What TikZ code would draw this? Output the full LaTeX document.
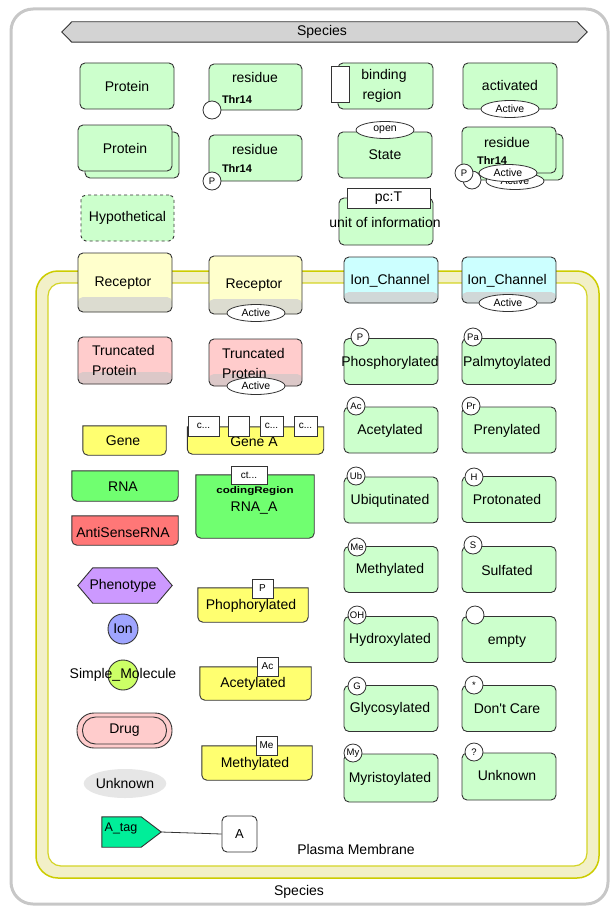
\documentclass[tikz,border=0pt]{standalone}
\usepackage{fontspec}
\usepackage{graphicx}
\setmainfont{Liberation Sans}
\usetikzlibrary{shapes.geometric}
\definecolor{protg}{HTML}{CCFFCC}
\definecolor{recy}{HTML}{FFFFCC}
\definecolor{recgray}{HTML}{DCDCD0}
\definecolor{ionc}{HTML}{CCFFFF}
\definecolor{iongray}{HTML}{D0D8D8}
\definecolor{truncp}{HTML}{FFCCCC}
\definecolor{truncgray}{HTML}{DCC8C8}
\definecolor{geney}{HTML}{FFFF70}
\definecolor{rnag}{HTML}{70FF70}
\definecolor{antir}{HTML}{FF7777}
\definecolor{phen}{HTML}{CC99FF}
\definecolor{ionb}{HTML}{9FA5FF}
\definecolor{smol}{HTML}{CCFF66}
\definecolor{drugp}{HTML}{FFCCCC}
\definecolor{unkg}{HTML}{E6E6E6}
\definecolor{tagg}{HTML}{00EE99}
\definecolor{bang}{HTML}{D3D3D3}
\definecolor{membf}{HTML}{F2F0C8}
\definecolor{membl}{HTML}{CCCC00}
\definecolor{edge}{HTML}{333333}
\newcommand\brnd[2]{\draw[line width=0.9pt, draw=edge, fill=#2] (#1.north west) -- (#1.north east) -- ([yshift=5pt]#1.south east) arc[start angle=0,end angle=-90,radius=5pt] -- ([xshift=5pt]#1.south west) arc[start angle=270,end angle=180,radius=5pt] -- cycle;}
\begin{document}
\begin{tikzpicture}[x=1pt,y=-1pt,
  every node/.style={inner sep=0pt, font=\fontsize{14}{16}\selectfont},
  lbl/.style={font=\fontsize{14}{16}\selectfont},
  bx/.style={draw=edge, line width=0.9pt, rounded corners=5pt},
  prot/.style={bx, fill=protg, minimum width=94pt, minimum height=46pt},
  modc/.style={circle, draw=edge, fill=white, line width=0.8pt, minimum size=18pt, font=\fontsize{9.5}{10}\selectfont},
  actv/.style={ellipse, draw=edge, fill=white, line width=0.8pt, minimum width=58pt, minimum height=17pt, font=\fontsize{10.5}{11}\selectfont},
  ubox/.style={draw=edge, fill=white, line width=0.8pt, font=\fontsize{10}{11}\selectfont},
  thr/.style={font=\fontsize{11}{12}\selectfont\bfseries},
  rec/.style={bx, fill=recy, minimum width=94pt, minimum height=59pt,
    path picture={\fill[recgray] (path picture bounding box.south west) rectangle ([yshift=15pt]path picture bounding box.south east);}},
  ionch/.style={bx, fill=ionc, minimum width=94pt, minimum height=46pt,
    path picture={\fill[iongray] (path picture bounding box.south west) rectangle ([yshift=11pt]path picture bounding box.south east);}},
  trunc/.style={bx, fill=truncp, minimum width=94pt, minimum height=47pt,
    path picture={\fill[truncgray] (path picture bounding box.south west) rectangle ([yshift=12pt]path picture bounding box.south east);}}
]
\useasboundingbox (0,0) rectangle (612,907);

% outer compartment
\node[draw=black!22, line width=3pt, rounded corners=22pt, minimum width=597pt, minimum height=895pt] (species) at (309.5,456.5) {};
\node[lbl] (speciesl) at (299,892) {Species};

% top banner
\node[minimum width=525pt, minimum height=20pt] (banner) at (324.5,32) {};
\draw[draw=edge, line width=0.9pt, fill=bang] (banner.west) -- ([xshift=10pt]banner.north west) -- ([xshift=-10pt]banner.north east) -- (banner.east) -- ([xshift=-10pt]banner.south east) -- ([xshift=10pt]banner.south west) -- cycle;
\node[lbl] (bannerl) at (322,32) {Species};

% row 1
\node[prot] (p1) at (127,86) {Protein};
\node[prot, minimum width=93pt] (r1) at (255.5,87) {};
\node[lbl] (r1l) at (255,77) {residue};
\node[thr] (r1t) at (237,100) {Thr14};
\node[modc] (r1m) at (212,110) {};
\node[prot, minimum width=95pt] (bind) at (385.5,86) {};
\node[ubox, minimum width=18pt, minimum height=36pt] (bindr) at (340,84) {};
\node[lbl] (bindl1) at (384,76) {binding};
\node[lbl] (bindl2) at (382,96) {region};
\node[prot] (act) at (510,86) {};
\node[lbl] (actl) at (510,85) {activated};
\node[actv] (acta) at (510,109) {Active};

% row 2
\node[prot] (pm2) at (132,155) {};
\node[prot] (pm1) at (125,148) {Protein};
\node[prot, minimum width=93pt] (r2) at (255.5,158) {};
\node[lbl] (r2l) at (255,149) {residue};
\node[thr] (r2t) at (237,169) {Thr14};
\node[modc] (r2m) at (212,181) {P};
\node[prot] (state) at (385,155) {State};
\node[actv] (statea) at (385,130) {open};
\node[prot] (rm2) at (516,157) {};
\node[prot] (rm1) at (509,150) {};
\node[lbl] (rm1l) at (507,142) {residue};
\node[thr] (rm1t) at (492,161) {Thr14};
\node[modc] (rm2m) at (472,180) {};
\node[actv] (rm2a) at (515,181) {Active};
\node[modc] (rm1m) at (464,173) {P};
\node[actv] (rm1a) at (508,173) {Active};

% row 3
\node[prot, dashed, minimum width=93pt] (hypo) at (127.5,218) {Hypothetical};
\node[prot, minimum height=47pt] (unit) at (386,221.5) {};
\node[ubox, minimum width=83pt, minimum height=20pt, font=\fontsize{14}{16}\selectfont] (unitb) at (388.5,198) {pc:T};
\node[lbl] (unitl) at (385,222) {unit of information};

% plasma membrane
\node[draw=membl, fill=membf, line width=1.5pt, rounded corners=22pt, minimum width=563pt, minimum height=607pt] (pmo) at (317.5,574.5) {};
\node[draw=membl!85, fill=white, line width=1.2pt, rounded corners=13pt, minimum width=539pt, minimum height=583pt] (pmi) at (317.5,574.5) {};
\node[lbl] (pml) at (356,849) {Plasma Membrane};

% receptors and channels
\node[rec] (rec1) at (125,282.5) {};
\node[lbl] (rec1l) at (123,283) {Receptor};
\node[rec, minimum width=93pt, minimum height=58pt] (rec2) at (255.5,285) {};
\node[lbl] (rec2l) at (254,285) {Receptor};
\node[actv] (rec2a) at (256,313) {Active};
\node[ionch] (ion1) at (391,280) {};
\node[lbl] (ion1l) at (390,281) {Ion\_Channel};
\node[ionch] (ion2) at (509,280) {};
\node[lbl] (ion2l) at (507,281) {Ion\_Channel};
\node[actv] (ion2a) at (508,303) {Active};

% truncated
\node[trunc] (tr1) at (125,360.5) {};
\node[lbl, anchor=west, align=left, font=\fontsize{14}{20}\selectfont] (tr1l) at (92,360) {Truncated\\Protein};
\node[trunc, minimum width=93pt] (tr2) at (255.5,362.5) {};
\node[lbl, anchor=west, align=left, font=\fontsize{14}{20}\selectfont] (tr2l) at (222,363) {Truncated\\Protein};
\node[actv] (tr2a) at (256,386) {Active};

% modification column
\node[prot] (phos) at (391,361.5) {};
\begin{scope}
\clip (0,300) rectangle (438.5,420);
\node[lbl] (phosl) at (390,363) {Phosphorylated};
\end{scope}
\node[modc] (phosm) at (360,337) {P};
\node[prot] (palm) at (509,361.5) {};
\node[lbl] (palml) at (507,363) {Palmytoylated};
\node[modc] (palmm) at (473,337) {Pa};
\node[prot] (acet) at (391,430) {};
\node[lbl] (acetl) at (390,431) {Acetylated};
\node[modc] (acetm) at (356,406) {Ac};
\node[prot] (pren) at (509,430) {};
\node[lbl] (prenl) at (507,431) {Prenylated};
\node[modc] (prenm) at (471,406) {Pr};
\node[prot] (ubiq) at (391,500) {};
\node[lbl] (ubiql) at (390,501) {Ubiqutinated};
\node[modc] (ubiqm) at (356,476) {Ub};
\node[prot] (prot) at (509,499.5) {};
\node[lbl] (protl) at (507,499) {Protonated};
\node[modc] (protm) at (474,477) {H};
\node[prot] (meth) at (391,569.5) {};
\node[lbl] (methl) at (390,570) {Methylated};
\node[modc] (methm) at (357,547) {Me};
\node[prot] (sulf) at (509,569.5) {};
\node[lbl] (sulfl) at (507,570) {Sulfated};
\node[modc] (sulfm) at (473,545) {S};
\node[prot] (hydr) at (391,639.5) {};
\node[lbl] (hydrl) at (390,640) {Hydroxylated};
\node[modc] (hydrm) at (357,615) {OH};
\node[prot] (empt) at (509,639.5) {};
\node[lbl] (emptl) at (507,641) {empty};
\node[modc] (emptm) at (475,615) {};
\node[prot] (glyc) at (391,708.5) {};
\node[lbl] (glycl) at (390,709) {Glycosylated};
\node[modc] (glycm) at (357,686) {G};
\node[prot] (dont) at (509,708.5) {};
\node[lbl] (dontl) at (507,709) {Don\textquotesingle t Care};
\node[modc] (dontm) at (474,685) {*};
\node[prot, minimum height=48pt] (myri) at (391,778) {};
\node[lbl] (myril) at (390,779) {Myristoylated};
\node[modc] (myrim) at (353,753) {My};
\node[prot, minimum height=47pt] (unkp) at (509,776.5) {};
\node[lbl] (unkpl) at (507,775) {Unknown};
\node[modc] (unkpm) at (474,752) {?};

% genes and RNA
\node[minimum width=83pt, minimum height=29pt] (gene) at (124.5,440.5) {};
\brnd{gene}{geney}
\node[lbl] (genel) at (123,441) {Gene};
\node[minimum width=136pt, minimum height=27pt] (genea) at (255.5,440.5) {};
\brnd{genea}{geney}
\node[lbl] (geneal) at (254,442) {Gene A};
\node[ubox, minimum width=31pt, minimum height=20pt] (ga1) at (203.5,426) {c...};
\node[ubox, minimum width=21pt, minimum height=20pt] (ga2) at (238.5,426) {};
\node[ubox, minimum width=23pt, minimum height=20pt] (ga3) at (271.5,426) {c...};
\node[ubox, minimum width=23pt, minimum height=20pt] (ga4) at (305.5,426) {c...};
\node[minimum width=106pt, minimum height=30pt] (rna) at (125,486) {};
\brnd{rna}{rnag}
\node[lbl] (rnal) at (123,487) {RNA};
\node[minimum width=106pt, minimum height=29pt] (anti) at (125,530.5) {};
\brnd{anti}{antir}
\node[lbl] (antil) at (123,532) {AntiSenseRNA};
\node[minimum width=118pt, minimum height=63pt] (rnaa) at (255,506.5) {};
\brnd{rnaa}{rnag}
\node[ubox, minimum width=36pt, minimum height=18pt] (rnaab) at (249,475) {ct...};
\node[font=\fontsize{9.5}{10}\selectfont\bfseries] (rnaac) at (255,491) {\scalebox{1.22}[1]{codingRegion}};
\node[lbl] (rnaal) at (254,508) {RNA\_A};

\node[minimum width=110pt, minimum height=34pt] (pg) at (253,605) {};
\brnd{pg}{geney}
\node[ubox, minimum width=21pt, minimum height=19pt] (pgb) at (262.5,588.5) {P};
\node[lbl] (pgl) at (251,606) {Phophorylated};
\node[minimum width=111pt, minimum height=33pt] (ag) at (255.5,683.5) {};
\brnd{ag}{geney}
\node[ubox, minimum width=21pt, minimum height=19pt] (agb) at (267.5,666.5) {Ac};
\node[lbl] (agl) at (253,684) {Acetylated};
\node[minimum width=110pt, minimum height=34pt] (mg) at (257,763) {};
\brnd{mg}{geney}
\node[ubox, minimum width=21pt, minimum height=19pt] (mgb) at (266.5,745.5) {Me};
\node[lbl] (mgl) at (255,764) {Methylated};

% other species
\node[minimum width=94pt, minimum height=35pt] (pheno) at (125,585.5) {};
\draw[draw=edge, line width=0.9pt, fill=phen] (pheno.west) -- ([xshift=15pt]pheno.north west) -- ([xshift=-15pt]pheno.north east) -- (pheno.east) -- ([xshift=-15pt]pheno.south east) -- ([xshift=15pt]pheno.south west) -- cycle;
\node[lbl] (phenol) at (123,586) {Phenotype};
\node[circle, draw=edge, fill=ionb, line width=0.9pt, minimum size=30pt] (ion) at (123,629) {Ion};
\node[circle, draw=edge, fill=smol, line width=0.9pt, minimum size=30pt] (smol) at (123,675) {};
\node[lbl] (smoll) at (123,675) {Simple\_Molecule};
\node[draw=edge, fill=drugp, line width=0.9pt, rounded corners=17pt, minimum width=95pt, minimum height=35pt] (drug) at (124.5,730.5) {};
\node[draw=edge, line width=0.9pt, rounded corners=13pt, minimum width=84pt, minimum height=27pt] (drugi) at (124.5,730.5) {Drug};
\node[ellipse, fill=unkg, minimum width=82pt, minimum height=29pt] (unk) at (125,783.5) {Unknown};

% tag and connector
\node[minimum width=59pt, minimum height=30pt] (atag) at (131.5,832) {};
\draw[draw=edge, line width=0.9pt, fill=tagg] (atag.north west) -- ([xshift=-20pt]atag.north east) -- (atag.east) -- ([xshift=-20pt]atag.south east) -- (atag.south west) -- cycle;
\node[font=\fontsize{12.5}{14}\selectfont] (atagl) at (121,828) {A\_tag};
\node[bx, fill=white, minimum width=35pt, minimum height=36pt, font=\fontsize{13}{14}\selectfont] (abox) at (239.5,834) {A};
\draw[draw=edge, line width=0.8pt] (atag.east) -- (abox.west);
\end{tikzpicture}
\end{document}
